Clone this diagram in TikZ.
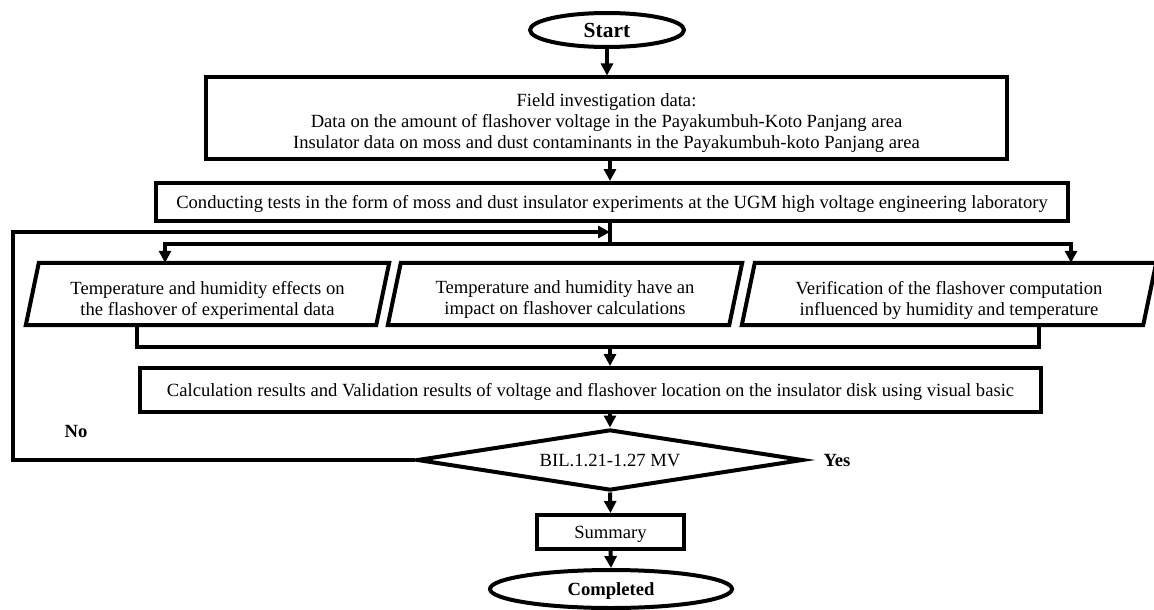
\documentclass[tikz,border=0pt]{standalone}
\usepackage{fontspec}
\setmainfont{Liberation Serif}
\usetikzlibrary{shapes.geometric,arrows.meta,calc}
\begin{document}
\begin{tikzpicture}[x=1pt,y=-1pt,
  txt/.style={font=\fontsize{18.6}{21}\selectfont,text depth=0pt},
  box/.style={txt,draw,line width=4pt,rectangle,inner sep=0pt,align=center},
  term/.style={txt,draw,line width=4pt,ellipse,inner sep=0pt,font=\fontsize{18.6}{21}\selectfont\bfseries},
  pframe/.style={rectangle,inner sep=0pt},
  ptext/.style={txt,inner sep=0pt,align=center},
  dec/.style={txt,draw,line width=4pt,diamond,inner sep=0pt},
  lab/.style={txt,font=\fontsize{18.6}{21}\selectfont\bfseries},
  ln/.style={line width=4pt},
  arr/.style={line width=4pt,-{Triangle[length=12pt,width=12pt]}},
  pline/.style={line width=4pt,line join=miter}]
\useasboundingbox (0,0) rectangle (1154,610);
\fill[white] (0,0) rectangle (1154,610);

\coordinate (cx) at (610,0);
\coordinate (a1) at (165,0);
\coordinate (a3) at (1071,0);
\coordinate (m1) at (137,0);
\coordinate (m3) at (1039,0);
\coordinate (br) at (610,244);
\coordinate (mg) at (610,347);
\coordinate (fb) at (13,232);

\node[term,minimum width=154pt,minimum height=34pt,font=\fontsize{21.5}{24}\selectfont\bfseries] (start) at (607,30) {Start};
\node[box,minimum width=801pt,minimum height=81pt] (b1) at (606.5,118) {};
\node[ptext] (b1t) at ([yshift=-3pt]b1.center)
  {Field investigation data:\\
   Data on the amount of flashover voltage in the Payakumbuh-Koto Panjang area\\
   Insulator data on moss and dust contaminants in the Payakumbuh-koto Panjang area};
\node[box,minimum width=912pt,minimum height=38pt] (b2) at (612,202)
  {Conducting tests in the form of moss and dust insulator experiments at the UGM high voltage engineering laboratory};

\node[pframe,minimum width=363pt,minimum height=62pt] (p1) at (207.5,294) {};
\node[pframe,minimum width=354pt,minimum height=62pt] (p2) at (565,294) {};
\node[pframe,minimum width=414pt,minimum height=62pt] (p3) at (949,294) {};
\foreach \p in {p1,p2,p3}
  \draw[pline] ([xshift=13pt]\p.north west) -- (\p.north east)
    -- ([xshift=-13pt]\p.south east) -- (\p.south west) -- cycle;
\node[ptext] (p1t) at ([yshift=-4pt]p1.center)
  {Temperature and humidity effects on\\the flashover of experimental data};
\node[ptext] (p2t) at ([yshift=-4pt]p2.center)
  {Temperature and humidity have an\\impact on flashover calculations};
\node[ptext] (p3t) at ([yshift=-4pt]p3.center)
  {Verification of the flashover computation\\influenced by humidity and temperature};

\node[box,minimum width=901pt,minimum height=44pt] (b4) at (590.5,390)
  {Calculation results and Validation results of voltage and flashover location on the insulator disk using visual basic};
\node[dec,aspect=6.33,minimum width=386pt,minimum height=61pt] (dia) at (610,460) {BIL.1.21-1.27 MV};
\node[box,minimum width=147pt,minimum height=34pt] (sum) at (610.5,532) {Summary};
\node[term,minimum width=242pt,minimum height=38pt] (comp) at (611,589) {Completed};

\node[lab] (no) at (76,431) {No};
\node[lab] (yes) at (837,460) {Yes};

\draw[arr] (start.south) -- (start.south |- b1.north);
\draw[arr] (cx |- b1.south) -- (cx |- b2.north);
\draw[ln] (cx |- b2.south) -- (br);
\draw[arr] (br) -| (a1 |- p1.north);
\draw[arr] (br) -| (a3 |- p3.north);
\draw[ln] (m1 |- p1.south) |- (mg);
\draw[ln] (m3 |- p3.south) |- (mg);
\draw[arr] (mg) -- (cx |- b4.north);
\draw[arr] (cx |- b4.south) -- (dia.north);
\draw[arr] (dia.south) -- (sum.north);
\draw[arr] (sum.south) -- (comp.north);
\draw[arr,line join=miter] (dia.west) -| (fb) -- (cx |- fb);
\end{tikzpicture}
\end{document}
